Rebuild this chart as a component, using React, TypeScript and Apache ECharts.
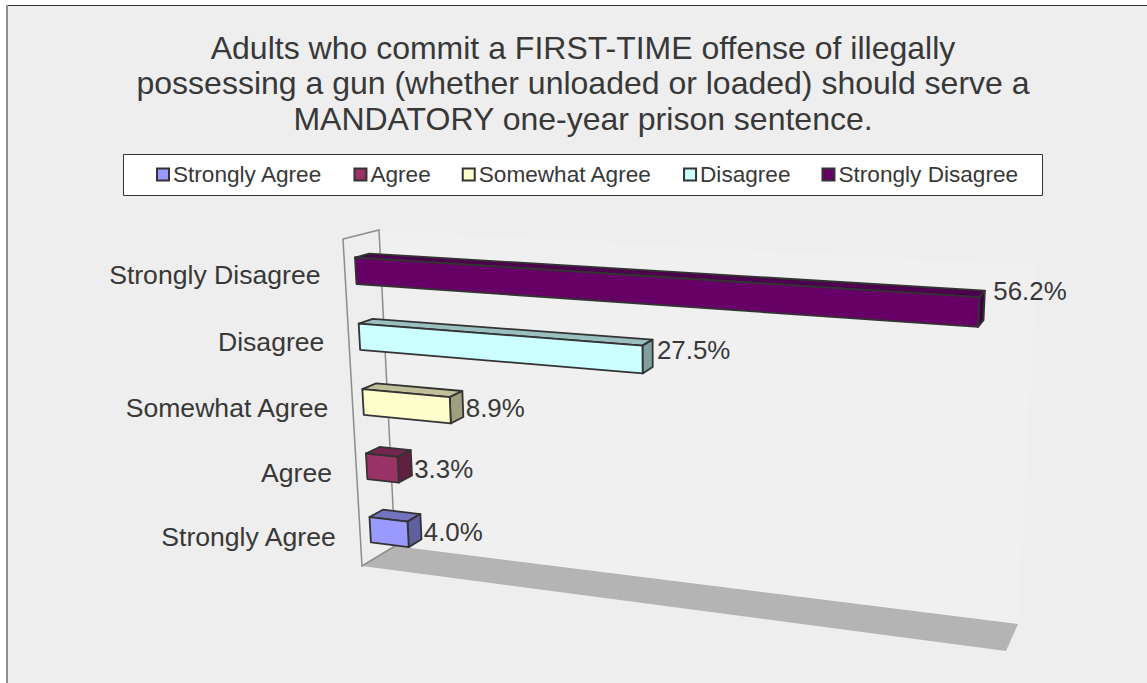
import React, { useEffect, useRef } from "react";
import * as echarts from "echarts";

const titleText = [
  "Adults who commit a FIRST-TIME offense of illegally",
  "possessing a gun (whether unloaded or loaded) should serve a",
  "MANDATORY one-year prison sentence.",
];
const categories = ["Strongly Agree", "Agree", "Somewhat Agree", "Disagree", "Strongly Disagree"];
const percentValues = [4.0, 3.3, 8.9, 27.5, 56.2];
const palette = ["#9999FF", "#993366", "#FFFFCC", "#CCFFFF", "#660066"];

const FONT = "'Liberation Sans', Arial, sans-serif";
const TEXT = "#383838";
const AXIS_MAX = 60;

type P = [number, number];
// Corners of the projected plot box: d=0 front, d=1 back.
const FTL: P = [343, 239], FTR: P = [1025, 281], FBL: P = [362, 566], FBR: P = [1006, 651];
const BTL: P = [379, 230], BTR: P = [1037, 265], BBL: P = [395, 546], BBR: P = [1018, 624];

const mix = (a: P, b: P, k: number): P => [a[0] + (b[0] - a[0]) * k, a[1] + (b[1] - a[1]) * k];
// u,v in 0..1 on the flat grid, d = depth in the box
function project(u: number, v0: number, d: number): P {
  const t = u / (1.136 - 0.136 * u);
  const v = v0 + 0.004 + 0.008 * Math.sin(Math.PI * v0);
  const front = mix(mix(FTL, FTR, t), mix(FBL, FBR, t), v);
  const back = mix(mix(BTL, BTR, t), mix(BBL, BBR, t), v);
  return mix(front, back, d);
}
const shade = (hex: string, k: number) => {
  const n = parseInt(hex.slice(1), 16);
  const c = [(n >> 16) & 255, (n >> 8) & 255, n & 255].map((x) => Math.round(x * k));
  return `rgb(${c[0]},${c[1]},${c[2]})`;
};

function barSeries(idx: number) {
  const color = palette[idx];
  return {
    type: "custom",
    name: categories[idx],
    coordinateSystem: "cartesian2d",
    itemStyle: { color },
    silent: true,
    data: [[percentValues[idx], categories[idx]]],
    encode: { x: 0, y: 1 },
    renderItem: (params: any, api: any) => {
      const cs = params.coordSys;
      const end = api.coord([api.value(0), idx]);
      const start = api.coord([0, idx]);
      const half = api.size([0, 1])[1] * 0.2;
      const toU = (x: number) => (x - cs.x) / cs.width;
      const toV = (y: number) => (y - cs.y) / cs.height;
      const u0 = toU(start[0]), u1 = toU(end[0]);
      const vT = toV(end[1] - half), vB = toV(end[1] + half), vC = toV(end[1]);
      const d0 = 0.3, d1 = 0.7;
      const stroke = { stroke: "#333333", lineWidth: 1.8, lineJoin: "round" };
      const poly = (points: P[], fill: string) => ({
        type: "polygon", shape: { points }, style: { fill, ...stroke },
      });
      const top = poly([project(u0, vT, d0), project(u1, vT, d0), project(u1, vT, d1), project(u0, vT, d1)], shade(color, 0.75));
      const side = poly([project(u1, vT, d0), project(u1, vT, d1), project(u1, vB, d1), project(u1, vB, d0)], shade(color, 0.625));
      const front = poly([project(u0, vT, d0), project(u1, vT, d0), project(u1, vB, d0), project(u0, vB, d0)], color);
      const lab = project(u1, vC, d1);
      const axisLab = project(0, vC, 0);
      const val = api.value(0);
      return {
        type: "group",
        children: [
          top, side, front,
          {
            type: "text",
            style: {
              text: val.toFixed(1) + "%",
              x: lab[0] + 2.8 + 0.002 * val * val, y: lab[1] + 7 - 0.38 * val,
              fill: TEXT, font: `25.9px ${FONT}`, align: "left", verticalAlign: "middle",
            },
          },
          {
            type: "text",
            style: {
              text: categories[idx],
              x: axisLab[0] - 24.5, y: axisLab[1] + 1.5,
              fill: TEXT, font: `26.6px ${FONT}`, align: "right", verticalAlign: "middle",
            },
          },
        ],
      };
    },
  };
}

const frameSeries = {
  type: "custom",
  name: "frame",
  coordinateSystem: "cartesian2d",
  silent: true,
  data: [[0, categories[0]]],
  encode: { x: 0, y: 1 },
  renderItem: () => ({
    type: "group",
    children: [
      { type: "polygon", shape: { points: [BTL, BTR, BBR, BBL] }, style: { fill: "#f0f0f0" } },
      { type: "polygon", shape: { points: [FBL, BBL, BBR, FBR] }, style: { fill: "#b4b4b4" } },
      { type: "polygon", shape: { points: [FTL, BTL, BBL, FBL] }, style: { fill: "#eeeeee", stroke: "#8c8c8c", lineWidth: 1.5 } },
    ],
  }),
};

export default function App() {
  const ref = useRef<HTMLDivElement>(null);
  useEffect(() => {
    document.body.style.margin = "0";
    const chart = echarts.init(ref.current!, null, { renderer: "svg" });
    chart.setOption({
      animation: false,
      backgroundColor: "#ffffff",
      title: {
        text: titleText.join("\n"),
        left: 578,
        top: 25,
        textAlign: "center",
        textStyle: { fontFamily: FONT, fontSize: 32, fontWeight: "normal", color: TEXT, lineHeight: 35.5 },
      },
      legend: {
        left: 156,
        top: 163,
        padding: 0,
        itemGap: 31,
        itemWidth: 12,
        itemHeight: 12,
        icon: "rect",
        data: categories,
        selectedMode: false,
        itemStyle: { borderColor: "#333333", borderWidth: 2 },
        textStyle: { fontFamily: FONT, fontSize: 22.6, color: TEXT, padding: [0, 0, 0, -1] },
      },
      grid: { left: 100, top: 230, width: 900, height: 330 },
      xAxis: { type: "value", min: 0, max: AXIS_MAX, show: false },
      yAxis: { type: "category", data: categories, show: false },
      graphic: [
        {
          type: "rect", z: -10,
          shape: { x: 6.5, y: 5.5, width: 1200, height: 800 },
          style: { fill: "#eeeeee", stroke: "#333333", lineWidth: 1 },
        },
        {
          type: "line", z: -9,
          shape: { x1: 7, y1: 5, x2: 7, y2: 683 },
          style: { stroke: "#909090", lineWidth: 2 },
        },
        {
          type: "rect", z: -8,
          shape: { x: 123.5, y: 154.5, width: 919, height: 41 },
          style: { fill: "#ffffff", stroke: "#333333", lineWidth: 1 },
        },
      ],
      series: [frameSeries, ...categories.map((_, i) => barSeries(i))],
    });
    return () => chart.dispose();
  }, []);
  return <div ref={ref} style={{ width: 1147, height: 683 }} />;
}
